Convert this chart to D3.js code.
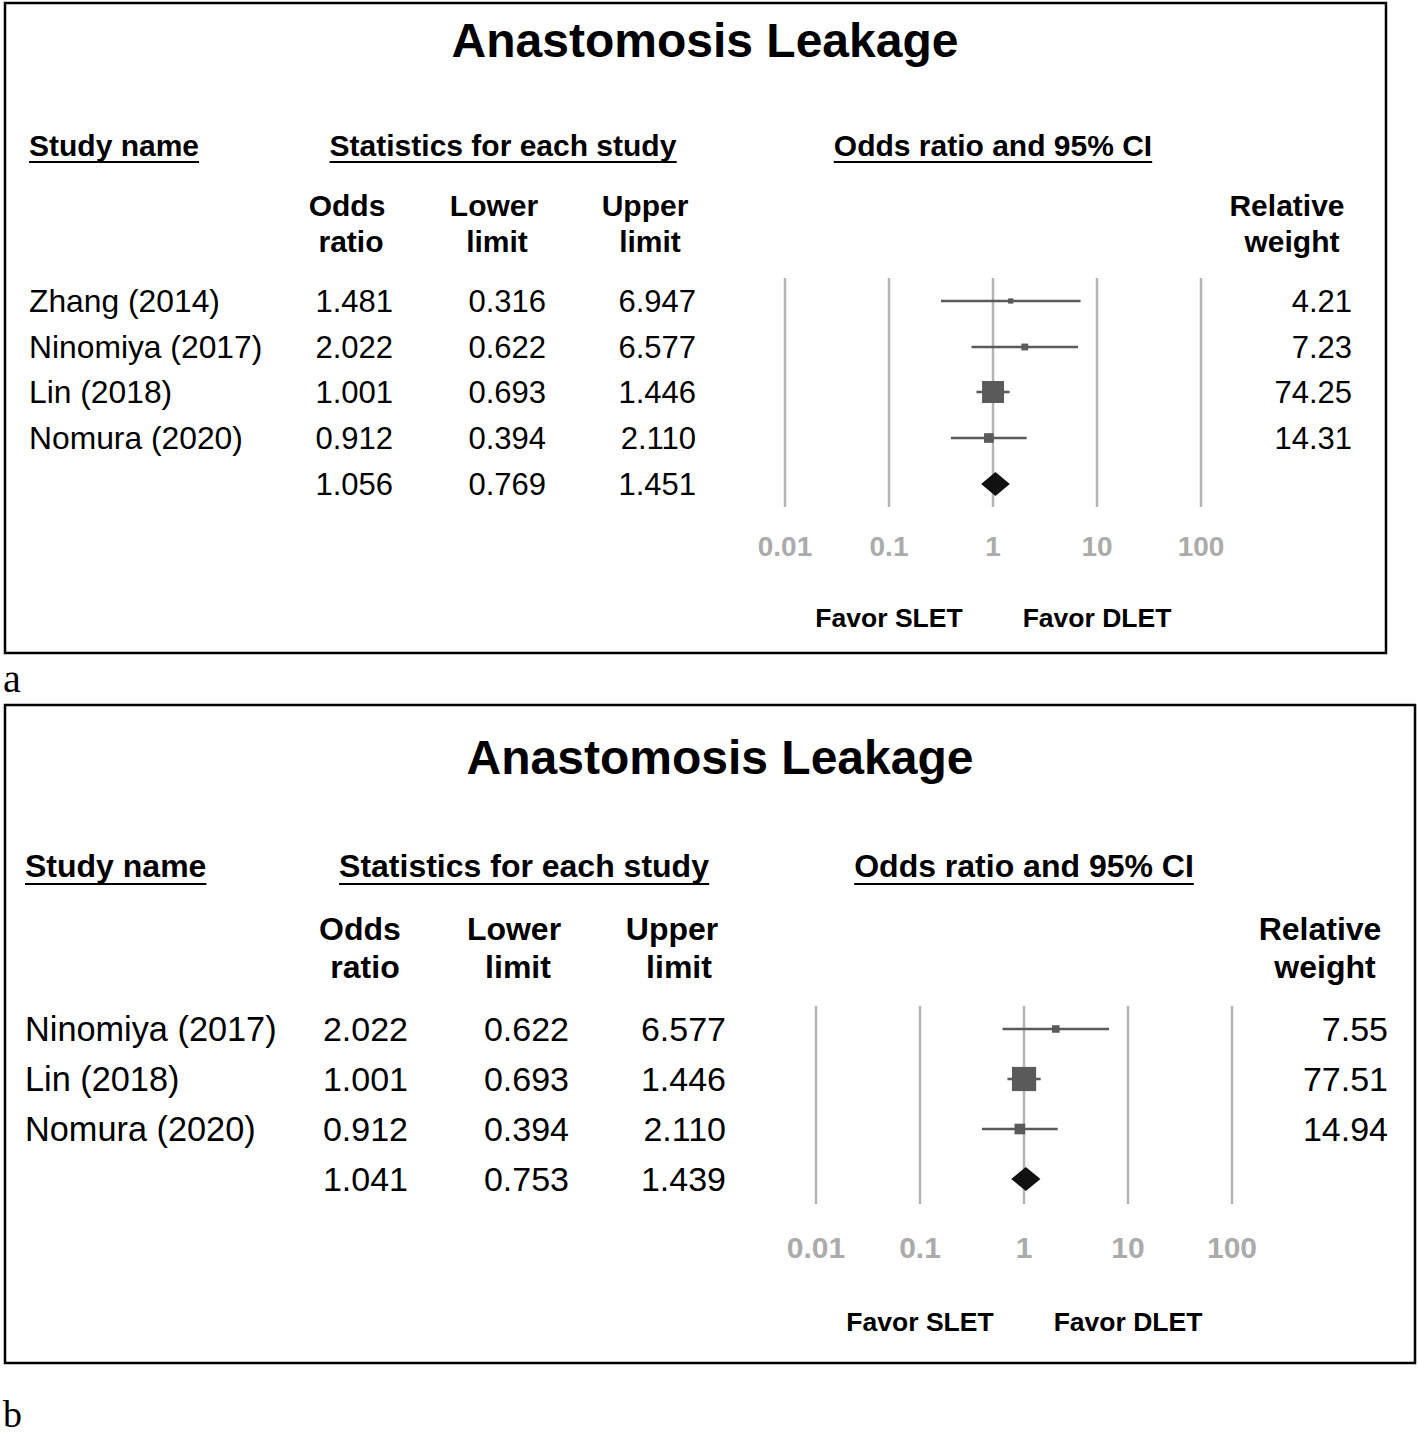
<!DOCTYPE html>
<html>
<head>
<meta charset="utf-8">
<script src="https://cdn.jsdelivr.net/npm/d3@7"></script>
<style>
  body { margin: 0; background: #fff; }
  svg text { font-family: "Liberation Sans", Arial, sans-serif; }
</style>
</head>
<body>
<svg id="chart"></svg>
<script>
// panel a data
const studiesA = ["Zhang (2014)", "Ninomiya (2017)", "Lin (2018)", "Nomura (2020)"];
const oddsA = [1.481, 2.022, 1.001, 0.912];
const lowerA = [0.316, 0.622, 0.693, 0.394];
const upperA = [6.947, 6.577, 1.446, 2.110];
const weightA = [4.21, 7.23, 74.25, 14.31];
const summaryA = [1.056, 0.769, 1.451];

// panel b data
const studiesB = ["Ninomiya (2017)", "Lin (2018)", "Nomura (2020)"];
const oddsB = [2.022, 1.001, 0.912];
const lowerB = [0.622, 0.693, 0.394];
const upperB = [6.577, 1.446, 2.110];
const weightB = [7.55, 77.51, 14.94];
const summaryB = [1.041, 0.753, 1.439];

const tickValues = [0.01, 0.1, 1, 10, 100];
const tickLabels = ["0.01", "0.1", "1", "10", "100"];
const title = "Anastomosis Leakage";

const svg = d3.select("#chart").attr("width", 1418).attr("height", 1437);

function drawPanel(p) {
    const g = svg.append("g");

    g.append("rect")
        .attr("x", p.box[0]).attr("y", p.box[1])
        .attr("width", p.box[2] - p.box[0]).attr("height", p.box[3] - p.box[1])
        .attr("fill", "none").attr("stroke", "#000").attr("stroke-width", 2.5);

    g.append("text")
        .attr("x", p.titleX).attr("y", p.titleY)
        .attr("text-anchor", "middle").attr("dominant-baseline", "central")
        .attr("font-size", 48).attr("font-weight", "bold")
        .text(title);

    // underlined group headers
    p.groups.forEach(h => {
        const t = g.append("text")
            .attr("x", h.x).attr("y", p.headY)
            .attr("text-anchor", h.anchor).attr("dominant-baseline", "central")
            .attr("font-size", p.headSize).attr("font-weight", "bold")
            .text(h.label);
        const bb = t.node().getBBox();
        g.append("line")
            .attr("x1", bb.x).attr("x2", bb.x + bb.width)
            .attr("y1", p.headY + p.underOff).attr("y2", p.headY + p.underOff)
            .attr("stroke", "#000").attr("stroke-width", 2);
    });

    // column headers (two lines each)
    p.cols.forEach(c => {
        c.lines.forEach((s, i) => {
            g.append("text")
                .attr("x", c.xs[i]).attr("y", p.colY[i])
                .attr("text-anchor", "middle").attr("dominant-baseline", "central")
                .attr("font-size", p.headSize).attr("font-weight", "bold")
                .text(s);
        });
    });

    const x = d3.scaleLog().domain([0.01, 100]).range(p.axis);
    const rows = p.studies.map((s, i) => ({
        name: s, or: p.odds[i], lo: p.lower[i], hi: p.upper[i], w: p.weight[i], y: p.rowY[i]
    }));

    // table text
    rows.forEach(r => {
        g.append("text").attr("x", p.nameX).attr("y", r.y)
            .attr("dominant-baseline", "central").attr("font-size", p.nameSize).text(r.name);
        [[r.or, p.valX[0]], [r.lo, p.valX[1]], [r.hi, p.valX[2]]].forEach(([v, vx]) => {
            g.append("text").attr("x", vx).attr("y", r.y)
                .attr("text-anchor", "end").attr("dominant-baseline", "central")
                .attr("font-size", p.rowSize).text(v.toFixed(3));
        });
        g.append("text").attr("x", p.weightX).attr("y", r.y)
            .attr("text-anchor", "end").attr("dominant-baseline", "central")
            .attr("font-size", p.rowSize).text(r.w.toFixed(2));
    });
    p.summary.forEach((v, i) => {
        g.append("text").attr("x", p.valX[i]).attr("y", p.sumY)
            .attr("text-anchor", "end").attr("dominant-baseline", "central")
            .attr("font-size", p.rowSize).text(v.toFixed(3));
    });

    // grid lines
    g.selectAll(".grid").data(tickValues).enter().append("line")
        .attr("x1", d => x(d)).attr("x2", d => x(d))
        .attr("y1", p.gridY[0]).attr("y2", p.gridY[1])
        .attr("stroke", "#b4b4b4").attr("stroke-width", 2.5);

    g.selectAll(".tick").data(tickValues).enter().append("text")
        .attr("x", d => x(d)).attr("y", p.tickY)
        .attr("text-anchor", "middle").attr("dominant-baseline", "central")
        .attr("font-size", p.tickSize).attr("font-weight", "bold").attr("fill", "#ababab")
        .text((d, i) => tickLabels[i]);

    // CI lines and squares
    g.selectAll(".ci").data(rows).enter().append("line")
        .attr("x1", d => x(d.lo)).attr("x2", d => x(d.hi))
        .attr("y1", d => d.y).attr("y2", d => d.y)
        .attr("stroke", "#5a5a5a").attr("stroke-width", 2.6);

    g.selectAll(".box").data(rows).enter().append("rect")
        .attr("x", d => x(d.or) - p.sq * Math.sqrt(d.w) / 2)
        .attr("y", d => d.y - p.sq * Math.sqrt(d.w) / 2)
        .attr("width", d => p.sq * Math.sqrt(d.w))
        .attr("height", d => p.sq * Math.sqrt(d.w))
        .attr("fill", "#5a5a5a");

    // summary diamond
    const [m, lo, hi] = p.summary;
    g.append("polygon")
        .attr("points", [
            [x(lo), p.sumY], [x(m), p.sumY - 12], [x(hi), p.sumY], [x(m), p.sumY + 12]
        ].map(q => q.join(",")).join(" "))
        .attr("fill", "#111");

    g.append("text").attr("x", x(0.1)).attr("y", p.favorY)
        .attr("text-anchor", "middle").attr("dominant-baseline", "central")
        .attr("font-size", 26.5).attr("font-weight", "bold").text("Favor SLET");
    g.append("text").attr("x", x(10)).attr("y", p.favorY)
        .attr("text-anchor", "middle").attr("dominant-baseline", "central")
        .attr("font-size", 26.5).attr("font-weight", "bold").text("Favor DLET");

    svg.append("text")
        .attr("x", 3).attr("y", p.labelY)
        .style("font-family", "'Liberation Serif', 'Times New Roman', serif")
        .attr("font-size", p.labelSize).text(p.label);
}

drawPanel({
    box: [5, 3, 1386, 653],
    titleX: 705, titleY: 40,
    headY: 145, headSize: 30, underOff: 17,
    groups: [
        { label: "Study name", x: 29, anchor: "start" },
        { label: "Statistics for each study", x: 503, anchor: "middle" },
        { label: "Odds ratio and 95% CI", x: 993, anchor: "middle" }
    ],
    colY: [205, 241],
    cols: [
        { lines: ["Odds", "ratio"], xs: [347, 351] },
        { lines: ["Lower", "limit"], xs: [494, 497] },
        { lines: ["Upper", "limit"], xs: [645, 650] },
        { lines: ["Relative", "weight"], xs: [1287, 1292] }
    ],
    studies: studiesA, odds: oddsA, lower: lowerA, upper: upperA, weight: weightA, summary: summaryA,
    rowY: [301, 347, 392, 438], sumY: 484,
    nameX: 29, nameSize: 31.8, rowSize: 31, valX: [393, 546, 696], weightX: 1352,
    axis: [785, 1201], gridY: [278, 507], tickY: 546, tickSize: 28,
    sq: 2.55, favorY: 618,
    label: "a", labelY: 692, labelSize: 40
});

drawPanel({
    box: [5, 705, 1415, 1363],
    titleX: 720, titleY: 757,
    headY: 866, headSize: 32, underOff: 18,
    groups: [
        { label: "Study name", x: 25, anchor: "start" },
        { label: "Statistics for each study", x: 524, anchor: "middle" },
        { label: "Odds ratio and 95% CI", x: 1024, anchor: "middle" }
    ],
    colY: [929, 967],
    cols: [
        { lines: ["Odds", "ratio"], xs: [360, 365] },
        { lines: ["Lower", "limit"], xs: [514, 518] },
        { lines: ["Upper", "limit"], xs: [672, 679] },
        { lines: ["Relative", "weight"], xs: [1320, 1325] }
    ],
    studies: studiesB, odds: oddsB, lower: lowerB, upper: upperB, weight: weightB, summary: summaryB,
    rowY: [1029, 1079, 1129], sumY: 1179,
    nameX: 25, nameSize: 34.3, rowSize: 34, valX: [408, 569, 726], weightX: 1388,
    axis: [816, 1232], gridY: [1006, 1204], tickY: 1247, tickSize: 30,
    sq: 2.75, favorY: 1322,
    label: "b", labelY: 1427, labelSize: 38
});
</script>
</body>
</html>
